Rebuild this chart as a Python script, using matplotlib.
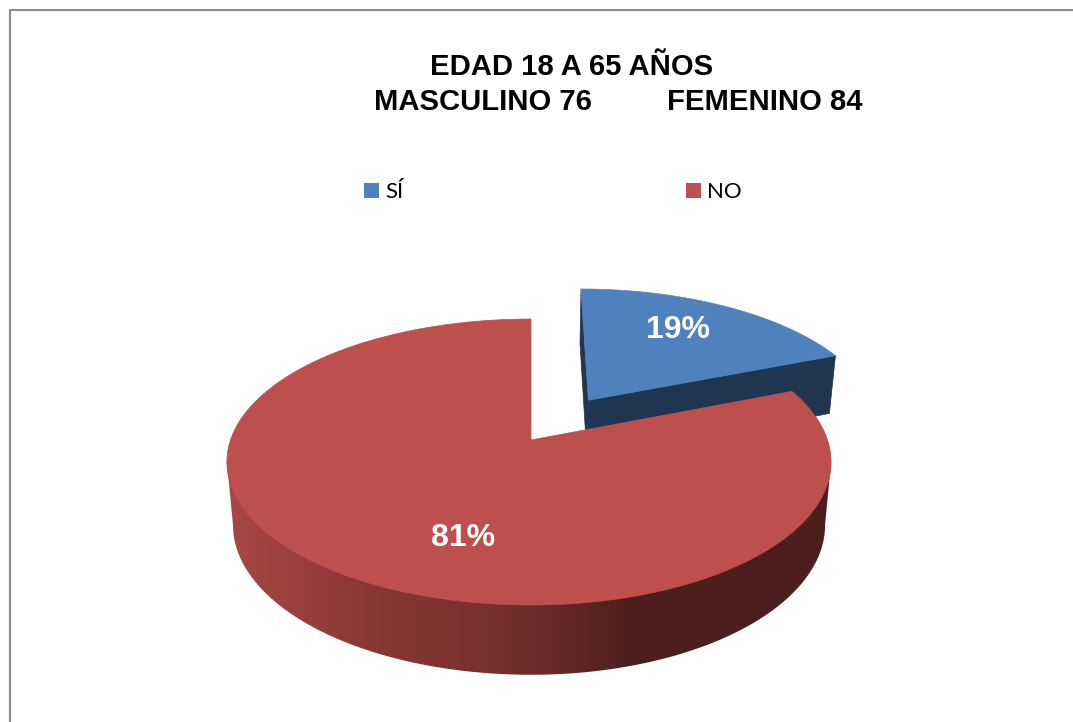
#!/bin/env python
""" 3D looking pie, drawn by hand since matplotlib has no such thing """
import numpy as np
from matplotlib import pyplot as plt
from matplotlib.patches import Polygon, Rectangle

categories = ["SÍ", "NO"]
values = [19, 81]
labels = ["19%", "81%"]
title_1 = "EDAD 18 A 65 AÑOS"
title_2 = ["MASCULINO 76", "FEMENINO 84"]

BLUE = "#4f81bd"
BLUE_DARK = "#1f3550"
RED = "#bd4f4c"

# projection of the pie, in pixels of the figure
CX, CY = 531, 440
RX_LEFT, RX_RIGHT = 300.5, 296.5
RY = 139.6
PERSP = 0.154
DEPTH = 61.8
SHRINK = 0.98
EXPLODE = 0.36


def project(theta, r=1.0, off=(0.0, 0.0), bottom=False):
    """ theta in degrees, clockwise from 12 o'clock """
    t = np.radians(theta)
    x = r * np.sin(t) + off[0]
    y = r * np.cos(t) + off[1]
    w = 1 + PERSP * y
    scale = SHRINK if bottom else 1.0
    px = CX + scale * np.where(x < 0, RX_LEFT, RX_RIGHT) * x / w
    py = CY - scale * RY * y / w
    if bottom:
        py = py + DEPTH / w
    return np.column_stack([px, py])


def side_gradient():
    px = np.arange(220, 840)
    stops = [227, 360, 500, 640, 831]
    reds = [168, 140, 116, 76, 76]
    greens = [72, 56, 48, 30, 30]
    blues = [68, 53, 46, 28, 28]
    rgb = np.column_stack([np.interp(px, stops, reds),
                           np.interp(px, stops, greens),
                           np.interp(px, stops, blues)]) / 255
    return rgb[np.newaxis, :, :]


fig = plt.figure(figsize=(10.73, 7.22), dpi=100)
ax = fig.add_axes([0, 0, 1, 1])
ax.set_xlim(0, 1073)
ax.set_ylim(722, 0)
ax.axis("off")

# chart frame, only top and left fall inside the picture
ax.plot([9.5, 9.5, 1073], [722, 9.5, 9.5], color="#8a8a8a", lw=1.5, zorder=1)

angles = np.cumsum(values) / np.sum(values) * 360
cut = angles[0]

# exploded slice
mid = np.radians(cut / 2)
off = (EXPLODE * np.sin(mid), EXPLODE * np.cos(mid))
arc = np.linspace(0, cut, 80)
top_apex = project(0, 0, off)
bot_apex = project(0, 0, off, bottom=True)
ax.add_patch(Polygon(np.vstack([project(0, 1, off), top_apex, bot_apex, project(0, 1, off, True)]),
                     fc=BLUE_DARK, ec=BLUE_DARK, lw=0.5, zorder=2))
ax.add_patch(Polygon(np.vstack([top_apex, project(cut, 1, off), project(cut, 1, off, True), bot_apex]),
                     fc=BLUE_DARK, ec=BLUE_DARK, lw=0.5, zorder=2))
ax.add_patch(Polygon(np.vstack([top_apex, project(arc, 1, off)]), fc=BLUE, ec=BLUE, lw=0.5, zorder=3))

# big slice, side first then the top over it
arc = np.linspace(cut, 360, 500)
top = project(arc)
bot = project(arc, bottom=True)
# silhouette of the side: widest point of the top, round the bottom, widest point of the top
r_bot, l_bot = bot[:, 0].argmax(), bot[:, 0].argmin()
side = Polygon(np.vstack([top[top[:, 0].argmax()], bot[r_bot:l_bot + 1], top[top[:, 0].argmin()]]),
               fc="none", ec="none")
ax.add_patch(side)
img = ax.imshow(side_gradient(), extent=(220, 840, 722, 0), aspect="auto", zorder=4, interpolation="bilinear")
img.set_clip_path(side)
ax.set_xlim(0, 1073)
ax.set_ylim(722, 0)
ax.add_patch(Polygon(np.vstack([project(0, 0), top]), fc=RED, ec=RED, lw=0.5, zorder=5))

ax.text(430, 75, title_1, family="Liberation Sans", weight="bold", fontsize=21.1, color="black", zorder=6)
ax.text(374, 110, title_2[0], family="Liberation Sans", weight="bold", fontsize=21.1, color="black", zorder=6)
ax.text(667, 110, title_2[1], family="Liberation Sans", weight="bold", fontsize=21.1, color="black", zorder=6)

ax.text(678, 330, labels[0], family="Liberation Sans", weight="bold", fontsize=23, color="white",
        ha="center", va="center", zorder=6)
ax.text(463, 538, labels[1], family="Liberation Sans", weight="bold", fontsize=23, color="white",
        ha="center", va="center", zorder=6)

# legend
for name, color, kx in zip(categories, [BLUE, "#c0504d"], [364, 686]):
    ax.add_patch(Rectangle((kx, 183), 15, 15, fc=color, ec="none", zorder=6))
    ax.text(kx + 21, 192, name, family="Lato", fontsize=16, color="black", va="center", zorder=6)

fig.savefig("out.png", dpi=100, facecolor="white")
